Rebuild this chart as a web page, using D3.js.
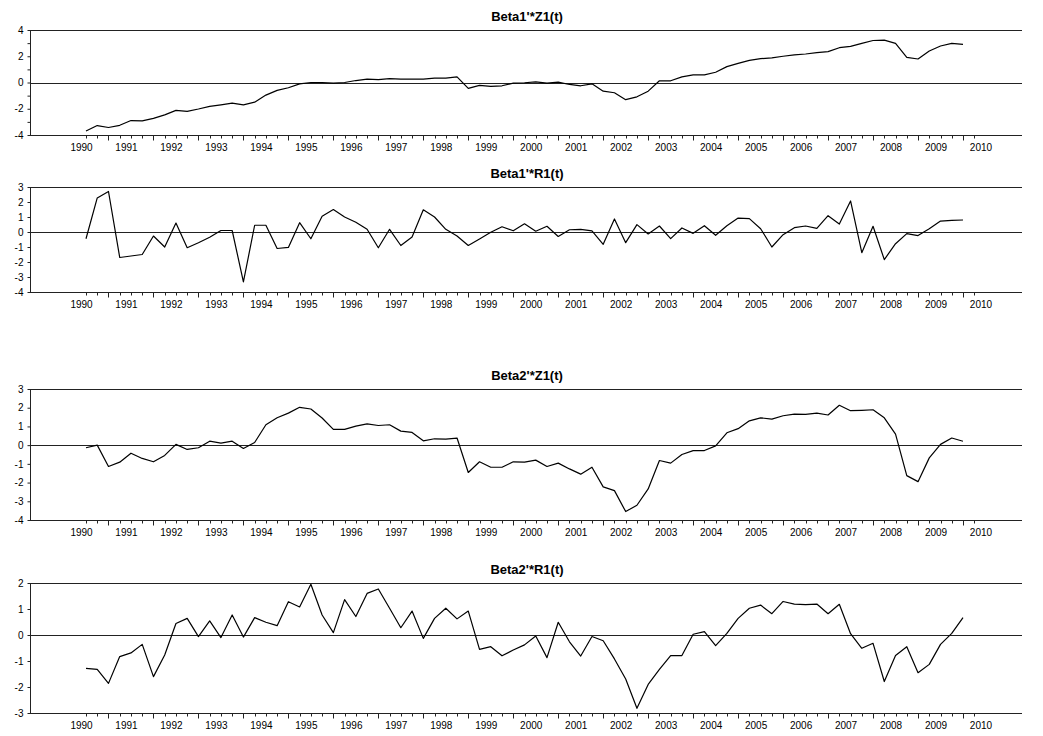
<!DOCTYPE html>
<html>
<head>
<meta charset="utf-8">
<script src="https://cdn.jsdelivr.net/npm/d3@7"></script>
<style>
  html, body { margin: 0; padding: 0; background: #fff; }
  svg { display: block; }
  text { font-family: Arial, "Liberation Sans", sans-serif; fill: #000; }
</style>
</head>
<body>
<svg id="chart" width="1043" height="736"></svg>
<script>
// Quarterly observations, one value per quarter (first obs is index 0).
const yearLabels = ["1990","1991","1992","1993","1994","1995","1996","1997","1998","1999",
  "2000","2001","2002","2003","2004","2005","2006","2007","2008","2009","2010"];

const titles = ["Beta1'*Z1(t)", "Beta1'*R1(t)", "Beta2'*Z1(t)", "Beta2'*R1(t)"];

const beta1Z1 = [-3.70,-3.28,-3.43,-3.26,-2.90,-2.93,-2.73,-2.47,-2.12,-2.20,
  -2.02,-1.82,-1.70,-1.57,-1.70,-1.50,-0.96,-0.60,-0.40,-0.10,
  0.00,0.00,-0.05,0.00,0.15,0.25,0.22,0.30,0.25,0.25,
  0.25,0.33,0.33,0.43,-0.45,-0.22,-0.30,-0.25,-0.05,-0.02,
  0.05,-0.05,0.03,-0.15,-0.25,-0.10,-0.66,-0.78,-1.31,-1.09,
  -0.66,0.13,0.13,0.43,0.58,0.58,0.78,1.21,1.46,1.69,
  1.82,1.87,2.00,2.10,2.17,2.27,2.35,2.65,2.75,2.98,
  3.20,3.23,2.98,1.92,1.79,2.40,2.78,2.98,2.90];

const beta1R1 = [-0.45,2.27,2.70,-1.70,-1.60,-1.50,-0.27,-1.00,0.60,-1.05,
  -0.72,-0.35,0.10,0.10,-3.33,0.45,0.45,-1.10,-1.03,0.62,
  -0.45,1.05,1.50,1.00,0.65,0.18,-1.05,0.18,-0.90,-0.33,
  1.48,1.00,0.18,-0.27,-0.90,-0.47,-0.02,0.35,0.08,0.55,
  0.05,0.38,-0.30,0.15,0.18,0.07,-0.82,0.87,-0.71,0.49,
  -0.13,0.40,-0.44,0.27,-0.09,0.42,-0.22,0.42,0.93,0.89,
  0.22,-1.00,-0.18,0.29,0.40,0.24,1.09,0.53,2.07,-1.38,
  0.38,-1.84,-0.78,-0.11,-0.24,0.22,0.73,0.78,0.80];

const beta2Z1 = [-0.14,0.00,-1.14,-0.91,-0.43,-0.71,-0.89,-0.55,0.04,-0.23,
  -0.14,0.21,0.11,0.21,-0.18,0.14,1.09,1.46,1.71,2.02,
  1.93,1.45,0.84,0.84,1.02,1.14,1.05,1.09,0.75,0.68,
  0.23,0.34,0.32,0.38,-1.46,-0.89,-1.18,-1.18,-0.89,-0.91,
  -0.80,-1.14,-0.96,-1.27,-1.55,-1.18,-2.23,-2.43,-3.55,-3.21,
  -2.34,-0.82,-0.96,-0.50,-0.29,-0.29,-0.04,0.66,0.88,1.30,
  1.46,1.39,1.57,1.66,1.64,1.71,1.61,2.13,1.84,1.86,
  1.89,1.46,0.59,-1.63,-1.95,-0.68,0.04,0.38,0.21];

const beta2R1 = [-1.28,-1.32,-1.86,-0.83,-0.69,-0.36,-1.60,-0.77,0.44,0.64,
  -0.06,0.54,-0.10,0.77,-0.08,0.67,0.49,0.36,1.28,1.08,
  1.95,0.77,0.09,1.36,0.71,1.60,1.77,1.03,0.28,0.92,
  -0.13,0.64,1.03,0.62,0.92,-0.55,-0.45,-0.80,-0.58,-0.38,
  -0.04,-0.87,0.49,-0.26,-0.81,-0.06,-0.22,-0.92,-1.69,-2.82,
  -1.90,-1.32,-0.79,-0.79,0.03,0.13,-0.41,0.06,0.64,1.03,
  1.15,0.82,1.29,1.19,1.17,1.19,0.82,1.18,0.05,-0.51,
  -0.32,-1.79,-0.79,-0.45,-1.45,-1.13,-0.36,0.06,0.67];

const seriesList = [beta1Z1, beta1R1, beta2Z1, beta2R1];
const yDomains = [[-4, 4], [-4, 3], [-4, 3], [-3, 2]];
const yLabelSteps = [2, 1, 1, 1];

// Vertical placement of each panel (plot top / bottom in px)
const panelTops = [30, 187, 389, 583];
const panelBottoms = [135, 292, 520, 713];

const axisLeft = 30, axisRight = 1022;
const firstX = 86, lastX = 963;

const svg = d3.select("#chart");
const nObs = beta1Z1.length;
const x = d3.scaleLinear().domain([0, nObs - 1]).range([firstX, lastX]);

const quarterTicks = d3.range(0, nObs + 1);
const yearTicks = quarterTicks.filter(i => (i - 2) % 4 === 0);

seriesList.forEach((values, p) => {
  const top = panelTops[p], bottom = panelBottoms[p];
  const [lo, hi] = yDomains[p];
  const y = d3.scaleLinear().domain([lo, hi]).range([bottom, top]);
  const g = svg.append("g");

  // title
  g.append("text")
    .attr("x", (axisLeft + axisRight) / 2 + 1)
    .attr("y", top - 9)
    .attr("text-anchor", "middle")
    .attr("font-size", 13)
    .attr("font-weight", "bold")
    .text(titles[p]);

  // frame top line
  g.append("line")
    .attr("x1", axisLeft).attr("x2", axisRight)
    .attr("y1", top + 0.5).attr("y2", top + 0.5)
    .attr("stroke", "#222").attr("stroke-width", 1);

  // zero line
  g.append("line")
    .attr("x1", axisLeft).attr("x2", axisRight)
    .attr("y1", Math.round(y(0)) + 0.5).attr("y2", Math.round(y(0)) + 0.5)
    .attr("stroke", "#222").attr("stroke-width", 1);

  // left axis with integer ticks
  const yTicks = d3.range(lo, hi + 1);
  const yAxis = d3.axisLeft(y)
    .tickValues(yTicks)
    .tickSize(3)
    .tickPadding(4)
    .tickFormat(v => (v % yLabelSteps[p] === 0 ? String(v) : ""));
  const ya = g.append("g").attr("transform", `translate(${axisLeft + 0.5},0)`).call(yAxis);
  ya.select(".domain").attr("stroke", "#222").attr("d", `M0,${top}V${bottom}`);
  ya.selectAll(".tick line").attr("stroke", "#222");
  ya.selectAll("text").attr("font-size", 10).attr("font-family", "Arial, 'Liberation Sans', sans-serif");

  // bottom axis: quarterly minor ticks, yearly long ticks
  const base = Math.round(bottom) + 0.5;
  g.append("line")
    .attr("x1", axisLeft).attr("x2", axisRight)
    .attr("y1", base).attr("y2", base)
    .attr("stroke", "#222");
  g.append("g").selectAll("line.q")
    .data(quarterTicks).join("line")
    .attr("x1", d => Math.round(x(d)) + 0.5).attr("x2", d => Math.round(x(d)) + 0.5)
    .attr("y1", base).attr("y2", d => base + (yearTicks.includes(d) ? 5 : 3))
    .attr("stroke", "#222");

  g.append("g").selectAll("text")
    .data(yearLabels).join("text")
    .attr("x", (d, i) => x(4 * i - 0.4))
    .attr("y", base + 15)
    .attr("text-anchor", "middle")
    .attr("font-size", 10)
    .text(d => d);

  // series line
  const line = d3.line().x((d, i) => x(i)).y(d => y(d));
  g.append("path")
    .datum(values)
    .attr("fill", "none")
    .attr("stroke", "#000")
    .attr("stroke-width", 1.2)
    .attr("stroke-linejoin", "round")
    .attr("d", line);
});
</script>
</body>
</html>
